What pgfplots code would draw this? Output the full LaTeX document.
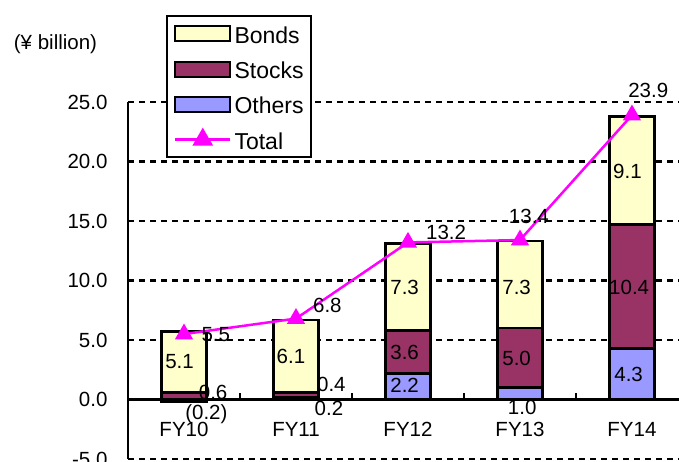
\documentclass[border=0pt]{standalone}
\usepackage{fontspec}
\setmainfont{Liberation Sans}
\usepackage{pgfplots}
\pgfplotsset{compat=1.18}
\usepackage{pgfplotstable}
\definecolor{bondc}{HTML}{FFFFCC}
\definecolor{stockc}{HTML}{993366}
\definecolor{otherc}{HTML}{9999FF}
\definecolor{totc}{HTML}{FF00FF}

\pgfplotstableread{
x others stocks bonds
0 0 0.6 5.1
1 0.2 0.4 6.1
2 2.2 3.6 7.3
3 1.0 5.0 7.3
4 4.3 10.4 9.1
}\stacktab
\pgfplotstableread{
x total
0 5.5
1 6.8
2 13.2
3 13.4
4 23.9
}\totaltab
\pgfplotstableread{
x y label
-0.04 3.15 5.1
0.26 0.62 0.6
0.20 -1.23 (0.2)
0.955 3.64 6.1
1.316 1.25 0.4
1.294 -0.72 0.2
1.97 9.4 7.3
1.97 3.98 3.6
1.97 1.2 2.2
2.97 9.4 7.3
2.97 3.48 5.0
3.02 -0.7 1.0
3.96 19.2 9.1
3.975 9.39 10.4
3.97 2.13 4.3
0.284 5.44 5.5
1.28 7.9 6.8
2.34 14.04 13.2
3.08 15.4 13.4
4.145 25.96 23.9
}\labtab

\newcommand{\mainfont}{\fontsize{20.5}{24}\selectfont}
\pgfplotsset{myaxis/.style={
  at={(128pt,2pt)}, anchor=south west,
  scale only axis, width=551pt, height=357pt,
  xmin=-0.5, xmax=4.42, ymin=-5, ymax=25,
  clip=false,
}}

\begin{document}
\begin{tikzpicture}
\begin{axis}[myaxis,
  ybar stacked, bar width=45pt,
  axis x line*=middle, axis y line*=left,
  axis line style={black, line width=2.5pt},
  xtick={0,1,2,3,4},
  xticklabels={FY10,FY11,FY12,FY13,FY14},
  minor xtick={0.5,1.5,2.5,3.5},
  major x tick style={draw=none},
  minor x tick style={black, line width=2.5pt},
  minor tick length=7pt,
  major tick length=5pt,
  tick align=inside,
  ytick={-5,0,5,10,15,20,25},
  ytick style={black, line width=2.5pt},
  yticklabel style={xshift=-17pt, /pgf/number format/fixed, /pgf/number format/fixed zerofill, /pgf/number format/precision=1, /pgf/number format/assume math mode=true},
  tick label style={font=\mainfont, text=black},
  xticklabel style={yshift=-19.5pt},
  ymajorgrids,
  grid style={black, line width=2.5pt, dash pattern=on 6pt off 5pt},
  reverse legend,
  legend style={at={(0.069,1.243)}, anchor=north west, draw=black, line width=2pt, fill=white,
    font=\fontsize{23}{27}\selectfont, legend cell align=left,
    inner xsep=7pt, inner ysep=4pt, row sep=8.3pt,
    nodes={inner sep=0pt, text height=23pt, text depth=4pt},
    /tikz/every odd column/.append style={column sep=3pt}},
]
\addlegendimage{totc, line width=2.5pt,
  legend image code/.code={\draw[totc, line width=2.5pt] (0pt,0pt) -- (55pt,0pt);
    \fill[totc] (27.5pt,9.5pt) -- (19.3pt,-4.75pt) -- (35.7pt,-4.75pt) -- cycle;}}
\addlegendentry{Total}
\addplot[fill=otherc, draw=black, line width=2.5pt,
  legend image code/.code={\draw[fill=otherc, draw=black, line width=2pt] (0pt,-7.5pt) rectangle (55pt,7.5pt);}]
  table[x=x, y=others] {\stacktab};
\addlegendentry{Others}
\addplot[fill=stockc, draw=black, line width=2.5pt,
  legend image code/.code={\draw[fill=stockc, draw=black, line width=2pt] (0pt,-7.5pt) rectangle (55pt,7.5pt);}]
  table[x=x, y=stocks] {\stacktab};
\addlegendentry{Stocks}
\addplot[fill=bondc, draw=black, line width=2.5pt,
  legend image code/.code={\draw[fill=bondc, draw=black, line width=2pt] (0pt,-7.5pt) rectangle (55pt,7.5pt);}]
  table[x=x, y=bonds] {\stacktab};
\addlegendentry{Bonds}
\end{axis}

\begin{axis}[myaxis, hide axis]
\addplot[ybar, bar width=45pt, bar shift=0pt, fill=otherc, draw=black, line width=2.5pt]
  coordinates {(0,-0.2)};
\addplot[totc, line width=2.5pt, mark=triangle*, mark size=8pt, mark options={solid, fill=totc}]
  table[x=x, y=total] {\totaltab};
\addplot[draw=none, mark=none, nodes near coords, point meta=explicit symbolic,
  nodes near coords style={anchor=center, inner sep=0pt, font=\mainfont, text=black}]
  table[x=x, y=y, meta=label] {\labtab};
\end{axis}

\node[font=\mainfont, text=black] at (55.5pt,417pt) {(¥ billion)};
\pgfresetboundingbox
\path[use as bounding box] (0,0) rectangle (679pt,461pt);
\end{tikzpicture}
\end{document}
